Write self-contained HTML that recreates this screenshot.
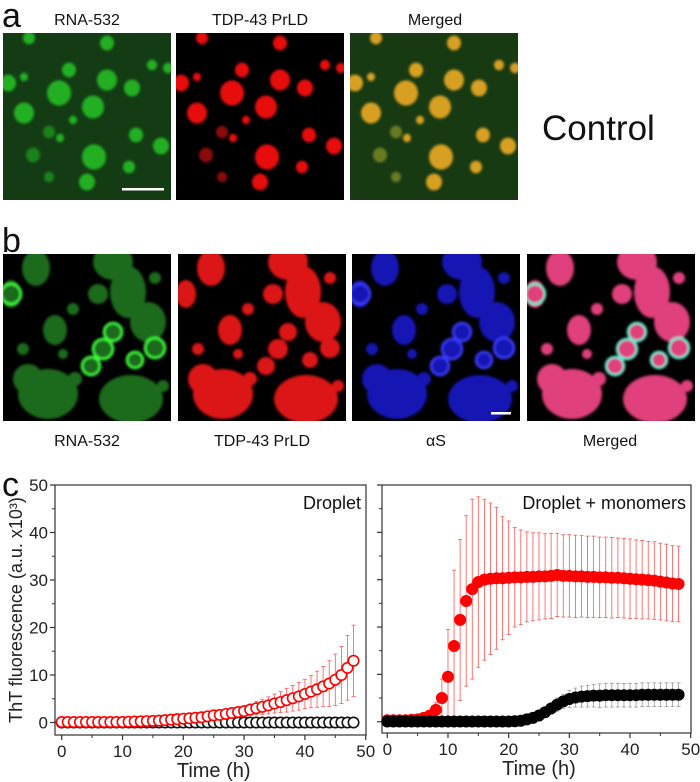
<!DOCTYPE html>
<html><head><meta charset="utf-8">
<style>
html,body{margin:0;padding:0;background:#fff;}
body{width:700px;height:782px;position:relative;overflow:hidden;font-family:"Liberation Sans",sans-serif;}
</style></head>
<body>
<svg id="fig" width="700" height="782" viewBox="0 0 700 782" xmlns="http://www.w3.org/2000/svg" style="position:absolute;left:0;top:0">
<defs>
<filter id="blur" x="-10%" y="-10%" width="120%" height="120%"><feGaussianBlur stdDeviation="1.2"/></filter>
<clipPath id="cp"><rect x="0" y="0" width="168" height="167"/></clipPath>
</defs>
<g font-family="Liberation Sans, sans-serif" fill="#111">
<text x="2" y="27" font-size="34">a</text>
<text x="87" y="25" font-size="16" text-anchor="middle">RNA-532</text>
<text x="260" y="25" font-size="16" text-anchor="middle">TDP-43 PrLD</text>
<text x="435" y="25" font-size="16" text-anchor="middle">Merged</text>
<text x="542" y="140" font-size="35">Control</text>
<text x="2" y="252" font-size="34">b</text>
<text x="87" y="446" font-size="16" text-anchor="middle">RNA-532</text>
<text x="262" y="446" font-size="16" text-anchor="middle">TDP-43 PrLD</text>
<text x="436" y="446" font-size="16" text-anchor="middle">αS</text>
<text x="610" y="446" font-size="16" text-anchor="middle">Merged</text>
<text x="2" y="496" font-size="34">c</text>
</g>
<g id="micro"></g>
<g id="charts"></g>
</svg>
<script>
// ---- microscopy (illustrative) ----
const aBlobs=[[56,60,12],[90,74,11],[104,47,10],[21,80,10],[91,124,12],[84,149,8],[66,37,7],[104,10,7],[129,55,8],[133,102,7],[158,113,8],[126,134,6],[5,50,8],[46,99,6],[30,122,7],[46,144,5],[149,32,5],[70,87,4],[57,105,4],[21,44,4],[165,35,5],[26,5,6]];
const bBlobs=[[33,14,14,18],[110,8,20,18],[125,38,18,26],[145,68,18,20],[8,40,10,14],[52,76,12,15],[45,140,30,25],[25,125,15,15],[128,145,32,24],[100,95,10,10],[110,78,9,9],[88,112,9,9],[72,125,7,7],[132,106,8,8],[152,94,10,10],[70,55,6,6],[95,40,10,10],[152,24,6,6],[160,132,6,6],[20,95,6,6],[60,100,5,5],[140,160,8,6]];
const micro=document.getElementById('micro');
const NS='http://www.w3.org/2000/svg';
function panel(x,y,bg,name){const g=document.createElementNS(NS,'g');g.setAttribute('transform','translate('+x+','+y+')');


const r=document.createElementNS(NS,'rect');r.setAttribute('width',168);r.setAttribute('height',167);r.setAttribute('fill',bg);g.appendChild(r);
const inner=document.createElementNS(NS,'g');inner.setAttribute('clip-path','url(#cp)');inner.setAttribute('filter','url(#blur)');g.appendChild(inner);micro.appendChild(g);return inner;}
function ell(g,cx,cy,rx,ry,fill){const e=document.createElementNS(NS,'ellipse');e.setAttribute('cx',cx);e.setAttribute('cy',cy);e.setAttribute('rx',rx);e.setAttribute('ry',ry);e.setAttribute('fill',fill);g.appendChild(e);return e;}
[[3,'#143c14','#22b022','micro-a-rna'],[176,'#000','#e81010','micro-a-tdp'],[350,'#173a12','#d8a020','micro-a-merged']].forEach(p=>{
 const g=panel(p[0],33,p[1],p[3]);aBlobs.forEach((b,i)=>ell(g,b[0],b[1],b[2],b[2]*1.05,(i>=13&&i<=15)?(p[3]==='micro-a-merged'?'#6a7a20':p[2]+'99'):p[2]));});
const sb1=document.createElementNS(NS,'rect');sb1.setAttribute('x',122);sb1.setAttribute('y',188);sb1.setAttribute('width',42);sb1.setAttribute('height',2.5);sb1.setAttribute('fill','#fff');


micro.appendChild(sb1);
[[3,'#000','#1e6a1e','micro-b-rna'],[178,'#000','#dc1414','micro-b-tdp'],[352,'#000','#1212b4','micro-b-as'],[527,'#000','#e0407c','micro-b-merged']].forEach(p=>{
 const g=panel(p[0],254,p[1],p[3]);bBlobs.forEach(b=>ell(g,b[0],b[1],b[2],b[3],p[2]));
 if(p[3]==='micro-b-rna'||p[3]==='micro-b-merged'||p[3]==='micro-b-as'){const c=p[3]==='micro-b-rna'?'#3cff3c':(p[3]==='micro-b-as'?'#3a3aff':'#60f0d8');
  [[100,95,10],[110,78,9],[88,112,9],[152,94,10],[8,40,10],[132,106,8]].forEach(b=>{const e=ell(g,b[0],b[1],b[2],b[2],'none');e.setAttribute('stroke',c);e.setAttribute('stroke-width',2.5);});}
});
const sb2=document.createElementNS(NS,'rect');sb2.setAttribute('x',491);sb2.setAttribute('y',412);sb2.setAttribute('width',20);sb2.setAttribute('height',2.5);sb2.setAttribute('fill','#fff');


micro.appendChild(sb2);

// ---- chart data (1 h spacing, 0..48 h) ----
const times=[0,1,2,3,4,5,6,7,8,9,10,11,12,13,14,15,16,17,18,19,20,21,22,23,24,25,26,27,28,29,30,31,32,33,34,35,36,37,38,39,40,41,42,43,44,45,46,47,48];
const leftRed=[0.1,0.1,0.1,0.1,0.1,0.1,0.1,0.1,0.1,0.1,0.1,0.15,0.2,0.25,0.3,0.35,0.4,0.5,0.6,0.7,0.8,0.9,1,1.1,1.3,1.5,1.6,1.8,2,2.2,2.4,2.7,3,3.3,3.6,4,4.3,4.7,5.1,5.5,6,6.5,7,7.6,8.2,9,10,11.5,13];
const leftRedErr=[0.1,0.1,0.1,0.1,0.1,0.1,0.1,0.1,0.1,0.1,0.2,0.2,0.2,0.2,0.3,0.3,0.3,0.3,0.4,0.4,0.4,0.5,0.5,0.6,0.6,0.7,0.7,0.8,0.9,1,1.1,1.2,1.4,1.6,1.8,2,2.2,2.5,2.7,2.9,3.1,3.4,3.8,4.2,4.8,5.4,6,6.8,7.5];
const leftBlack=[0,0,0,0,0,0,0,0,0,0,0,0,0,0,0,0,0,0,0,0,0,0,0,0,0,0,0,0,0,0,0,0,0,0,0,0,0,0,0,0,0,0,0,0,0,0,0,0,0];
const leftBlackErr=[0.2,0.2,0.2,0.2,0.2,0.2,0.2,0.2,0.2,0.2,0.2,0.2,0.2,0.2,0.2,0.2,0.2,0.2,0.2,0.2,0.2,0.2,0.2,0.2,0.2,0.2,0.2,0.2,0.2,0.2,0.2,0.2,0.2,0.2,0.2,0.2,0.2,0.2,0.2,0.2,0.2,0.2,0.2,0.2,0.2,0.2,0.2,0.2,0.2];
const rightRed=[0.3,0.3,0.3,0.3,0.4,0.5,0.8,1.3,2.5,5,9.5,16,21.5,25.5,28,29.5,30,30.2,30.3,30.3,30.4,30.5,30.5,30.6,30.6,30.7,30.7,30.8,31,30.8,30.8,30.7,30.7,30.6,30.6,30.5,30.5,30.4,30.4,30.3,30.2,30.1,30,29.9,29.8,29.6,29.4,29.2,29.1];
const rightRedErr=[0.2,0.2,0.2,0.2,0.3,0.4,0.6,1,1.5,4,10,16,17,18,19,18,17,16,15,13,12,10.5,10,9.5,9.3,9.2,9,9,8.8,8.7,8.7,8.7,8.6,8.6,8.6,8.5,8.5,8.5,8.4,8.4,8.4,8.3,8.3,8.2,8.2,8.1,8.1,8,8];
const rightBlack=[0.05,0.05,0.05,0.05,0.05,0.05,0.05,0.05,0.05,0.05,0.05,0.05,0.05,0.05,0.05,0.05,0.05,0.05,0.05,0.05,0.05,0.1,0.2,0.5,0.8,1.3,2,2.8,3.6,4.3,4.8,5.1,5.3,5.4,5.5,5.5,5.6,5.6,5.6,5.6,5.6,5.6,5.7,5.7,5.7,5.7,5.7,5.7,5.7];
const rightBlackErr=[0.3,0.3,0.3,0.3,0.3,0.3,0.3,0.3,0.3,0.3,0.3,0.3,0.3,0.3,0.3,0.3,0.3,0.3,0.3,0.3,0.3,0.3,0.4,0.5,0.6,0.8,1,1.2,1.4,1.5,1.8,2,2.2,2.3,2.4,2.5,2.5,2.5,2.5,2.5,2.5,2.5,2.5,2.5,2.5,2.5,2.5,2.5,2.5];
const xTicks=[0,10,20,30,40,50];
const yTicks=[0,10,20,30,40,50];

const charts=document.getElementById('charts');
function mk(tag,attrs,parent){const e=document.createElementNS(NS,tag);for(const k in attrs)e.setAttribute(k,attrs[k]);(parent||charts).appendChild(e);return e;}
function drawChart(opt){
 const g=mk('g',{});
 
 
 const X=t=>opt.x0+(opt.x1-opt.x0)*t/50;
 const Y=v=>opt.y0-(opt.y0-opt.y50)*v/50;
 const f=mk('rect',{x:opt.fx,y:opt.y50,width:opt.fw,height:opt.fb-opt.y50,fill:'none',stroke:'#333','stroke-width':1.2},g);
 
 
 for(let i=0;i<yTicks.length;i++){const v=yTicks[i];
  mk('line',{x1:opt.fx-5,x2:opt.fx,y1:Y(v),y2:Y(v),stroke:'#333','stroke-width':1.2},g);
  if(i<yTicks.length-1)mk('line',{x1:opt.fx-3,x2:opt.fx,y1:Y(v+5),y2:Y(v+5),stroke:'#333','stroke-width':1},g);
  if(opt.labels){const t=mk('text',{x:opt.fx-7,y:Y(v)+6,'font-size':17,'text-anchor':'end',fill:'#222','font-family':'Liberation Sans, sans-serif'},g);t.textContent=v;
   
   }
 }
 for(let i=0;i<xTicks.length;i++){const v=xTicks[i];
  mk('line',{x1:X(v),x2:X(v),y1:opt.fb,y2:opt.fb+5,stroke:'#333','stroke-width':1.2},g);
  if(i<xTicks.length-1)mk('line',{x1:X(v+5),x2:X(v+5),y1:opt.fb,y2:opt.fb+3,stroke:'#333','stroke-width':1},g);
  const t=mk('text',{x:X(v),y:opt.fb+22,'font-size':17,'text-anchor':'middle',fill:'#222','font-family':'Liberation Sans, sans-serif'},g);t.textContent=v;
  
  
 }
 const xt=mk('text',{x:(opt.x0+opt.x1)/2,y:opt.fb+42,'font-size':20,'text-anchor':'middle',fill:'#222','font-family':'Liberation Sans, sans-serif'},g);xt.textContent='Time (h)';
 
 
 const tt=mk('text',{x:opt.fx+opt.fw-5,y:opt.y50+24,'font-size':18,'text-anchor':'end',fill:'#111','font-family':'Liberation Sans, sans-serif'},g);tt.textContent=opt.title;
 
 
 opt.series.forEach(s=>{
  const sg=mk('g',{},g);
  
  
  for(let i=0;i<times.length;i++){const x=X(times[i]),yt=Y(s.v[i]+s.e[i]),yb=Y(s.v[i]-s.e[i]);
   mk('line',{x1:x,x2:x,y1:yt,y2:yb,stroke:s.ec,'stroke-width':0.8},sg);
   mk('line',{x1:x-2,x2:x+2,y1:yt,y2:yt,stroke:s.ec,'stroke-width':0.8},sg);
   mk('line',{x1:x-2,x2:x+2,y1:yb,y2:yb,stroke:s.ec,'stroke-width':0.8},sg);}
  for(let i=0;i<times.length;i++){
   const c=mk('circle',{cx:X(times[i]),cy:Y(s.v[i]),r:s.r,fill:s.fill,stroke:s.stroke,'stroke-width':1.6},sg);
   
   }
 });
}
drawChart({name:'chart-droplet',x0:61.7,x1:365.7,y0:722.5,y50:485,fx:55,fw:311,fb:735,labels:true,title:'Droplet',
 series:[{name:'series-black-open',v:leftBlack,e:leftBlackErr,fill:'#fff',stroke:'#111',ec:'#555',r:5.2},
         {name:'series-red-open',v:leftRed,e:leftRedErr,fill:'#fff',stroke:'#f00',ec:'#f55',r:5.2}]});
drawChart({name:'chart-droplet-monomers',x0:387.3,x1:690.7,y0:721.7,y50:485,fx:382,fw:309,fb:733,labels:false,title:'Droplet + monomers',
 series:[{name:'series-red-filled',v:rightRed,e:rightRedErr,fill:'#f00',stroke:'#f00',ec:'#f55',r:5.2},
         {name:'series-black-filled',v:rightBlack,e:rightBlackErr,fill:'#000',stroke:'#000',ec:'#999',r:5.2}]});
const yt=mk('text',{x:0,y:0,'font-size':18,'text-anchor':'middle',fill:'#222','font-family':'Liberation Sans, sans-serif',transform:'translate(22,610) rotate(-90)'});
yt.textContent='ThT fluorescence (a.u. x10³)';


</script>
</body></html>
